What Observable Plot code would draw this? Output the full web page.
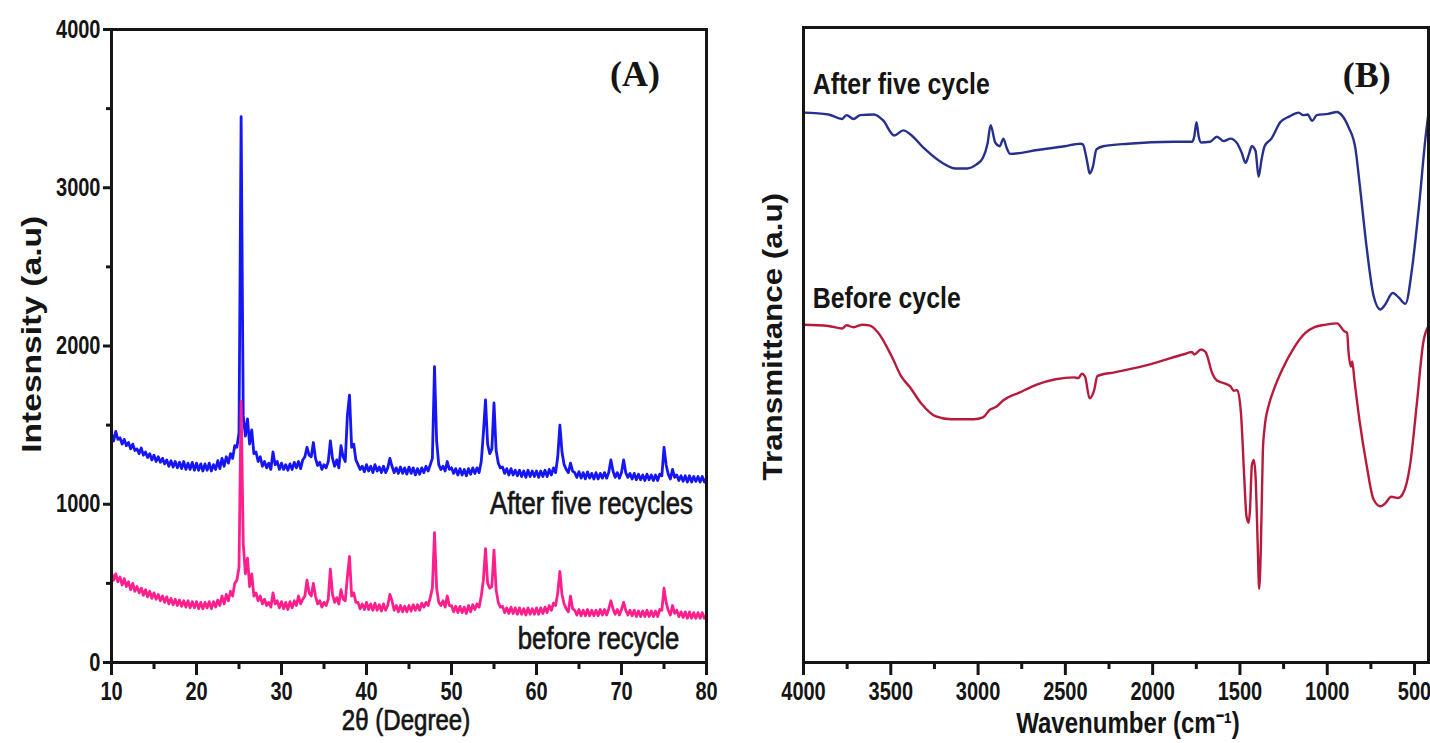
<!DOCTYPE html>
<html><head><meta charset="utf-8">
<script src="https://cdn.jsdelivr.net/npm/d3@7"></script>
<script src="https://cdn.jsdelivr.net/npm/@observablehq/plot@0.6"></script>
<style>
html,body{margin:0;padding:0;background:#fff;overflow:hidden}
#wrap{display:flex;width:1430px;height:743px}
#wrap svg{display:block;flex:none}
</style></head><body><div id="wrap"></div>
<script>
// ---------- Panel A : XRD (2θ grid starts at 10°, step 0.25°) ----------
const xrdStart = 10, xrdStep = 0.25;
const xrdAfter = [
1450,1400,1460,1410, 1420,1380,1410,1370, 1390,1350,1380,1340, 1350,1320,1355,1310,
1330,1295,1320,1280, 1310,1270,1300,1265, 1290,1255,1280,1240, 1275,1235,1270,1230,
1265,1225,1270,1220, 1260,1220,1265,1215, 1260,1215,1255,1210, 1255,1215,1260,1210,
1250,1220,1275,1225, 1290,1240,1300,1260, 1320,1290,1370,1360, 1450,3450,1560,1430,
1540,1380,1470,1320, 1330,1270,1300,1240, 1270,1230,1260,1220, 1330,1250,1270,1220,
1260,1220,1250,1215, 1255,1220,1265,1230, 1270,1225,1280,1300, 1360,1310,1300,1390,
1290,1245,1265,1220, 1250,1230,1270,1400, 1290,1240,1280,1230, 1370,1300,1270,1560,
1690,1360,1380,1280, 1250,1220,1240,1205, 1250,1210,1240,1200, 1250,1210,1235,1200,
1240,1200,1230,1290, 1240,1200,1230,1195, 1235,1195,1230,1190, 1235,1195,1230,1185,
1225,1190,1230,1200, 1240,1210,1250,1290, 1870,1400,1250,1220, 1240,1210,1270,1220,
1230,1195,1225,1185, 1225,1185,1220,1180, 1225,1190,1230,1195, 1230,1200,1270,1450,
1660,1380,1320,1350, 1640,1340,1260,1230, 1235,1195,1225,1185, 1225,1185,1215,1180,
1215,1175,1210,1170, 1215,1175,1210,1175, 1210,1170,1210,1175, 1215,1175,1220,1185,
1230,1200,1300,1500, 1330,1250,1220,1200, 1260,1210,1200,1170, 1205,1165,1200,1160,
1205,1165,1195,1160, 1200,1160,1195,1165, 1200,1165,1200,1280, 1210,1170,1200,1165,
1200,1280,1200,1170, 1195,1160,1195,1155, 1190,1155,1185,1150, 1190,1155,1185,1150,
1185,1150,1190,1180, 1360,1250,1190,1160, 1220,1170,1185,1150, 1180,1145,1180,1140,
1180,1140,1175,1145, 1175,1140,1175,1140, 1165
];
const xrdBefore = [
570,520,560,510, 540,490,530,480, 510,460,500,450, 480,440,470,425,
460,415,450,405, 440,400,430,390, 420,380,415,370, 405,365,400,360,
395,355,390,350, 390,345,385,345, 385,340,380,340, 380,345,385,340,
385,350,395,360, 420,370,430,390, 450,420,500,520, 600,1650,750,560,
660,480,560,420, 440,390,420,370, 400,360,380,350, 440,370,390,345,
385,340,380,335, 385,345,390,360, 420,370,400,420, 520,440,420,500,
420,370,390,350, 380,360,400,590, 430,380,410,370, 460,400,390,540,
670,420,440,380, 380,340,370,335, 380,335,370,330, 375,330,365,325,
370,330,360,430, 390,330,360,320, 360,320,355,320, 360,325,365,330,
365,330,375,350, 380,360,410,470, 820,470,380,360, 390,350,420,360,
360,320,355,315, 355,315,350,310, 360,320,365,335, 370,350,420,520,
720,500,470,480, 710,460,380,350, 355,315,345,310, 350,310,345,305,
345,305,340,300, 345,305,340,305, 345,305,345,310, 350,315,360,330,
375,360,440,575, 430,370,340,320, 420,340,330,300, 335,295,330,295,
335,295,330,295, 330,295,335,300, 335,300,340,390, 340,305,335,300,
335,380,330,300, 330,295,330,290, 325,290,325,290, 330,290,325,290,
325,290,335,330, 470,380,330,300, 360,310,330,290, 320,285,320,280,
320,280,315,280, 315,280,315,280, 300
];
const xrdTicks = [10, 20, 30, 40, 50, 60, 70, 80];
const xrdMinorTicks = [15, 25, 35, 45, 55, 65, 75];
const intensityTicks = [0, 1000, 2000, 3000, 4000];
const intensityMinorTicks = [500, 1500, 2500, 3500];

// ---------- Panel B : FTIR (transmittance, arbitrary units 0–100) ----------
const ftirWnAfter = [4000,3857,3779,3753,3714,3675,3597,3545,3480,3428,3389,3310,3206,3128,3063,3011,2972,2946,2928,2902,2876,2855,2837,2816,2660,2504,2413,2400,2374,2361,2343,2322,2283,2140,1879,1775,1762,1749,1736,1723,1671,1632,1593,1554,1515,1489,1468,1450,1432,1411,1393,1377,1359,1320,1268,1216,1164,1138,1112,1086,1060,995,943,917,878,839,813,774,735,696,670,625,591,552,513,474,435,420];
const ftirAfter   = [86.6,86.3,85.6,86.2,85.6,86.2,86.3,85.4,83.0,83.8,83.2,81.0,78.7,77.8,77.8,78.4,79.5,81.7,84.6,81.9,81.3,82.5,81.1,80.1,80.7,81.3,81.7,81.6,78.7,77.0,78.0,80.8,81.3,81.7,82.0,82.0,82.8,85.1,82.8,81.9,82.0,82.8,82.1,82.5,81.7,80.2,78.7,79.9,81.3,80.6,76.5,79.1,81.3,82.5,85.1,86.0,86.6,86.2,86.3,85.3,86.2,86.4,86.7,86.2,84.3,81.0,75.0,65.3,57.8,55.6,56.3,58.2,57.5,56.5,62.3,72.0,83.2,86.6];
const ftirWnBefore = [4000,3857,3779,3753,3714,3662,3623,3571,3493,3441,3389,3323,3245,3154,3024,2972,2933,2894,2855,2764,2660,2556,2452,2426,2405,2387,2361,2335,2317,2218,2010,1827,1775,1762,1723,1697,1658,1632,1593,1554,1536,1515,1494,1476,1463,1450,1442,1432,1421,1411,1398,1390,1380,1369,1359,1333,1307,1255,1190,1125,1073,1008,943,904,886,878,865,857,844,813,774,735,696,670,633,594,568,526,487,450,420];
const ftirBefore   = [53.2,53.0,52.6,53.1,52.8,53.2,53.1,51.9,48.1,45.1,43.3,40.7,38.8,38.3,38.3,38.6,39.8,40.3,41.3,42.5,43.8,44.6,44.9,44.8,45.5,45.0,41.6,42.9,45.1,45.7,47.0,48.5,48.9,48.5,49.3,48.9,45.5,44.4,44.0,43.5,42.8,42.9,39.2,29.5,23.1,22.0,24.3,31.0,31.9,29.5,18.3,11.6,18.3,33.2,36.9,40.7,42.9,46.3,49.6,51.9,52.8,53.2,53.4,52.2,51.9,48.9,46.6,47.4,44.4,37.7,31.0,25.7,24.6,25.0,26.1,25.9,26.5,31.0,40.7,50.4,53.0];
const wnTicks = [4000, 3500, 3000, 2500, 2000, 1500, 1000, 500];
const wnMinorTicks = [3750, 3250, 2750, 2250, 1750, 1250, 750];

// ---------- styling ----------
const SANS = "'Liberation Sans', Arial, sans-serif";
const SERIF = "'Liberation Serif', 'Times New Roman', serif";
const INK = "#151515";
const plain = d => String(d);

const xrdRows = (vals) => vals.map((v, i) => ({angle: xrdStart + i * xrdStep, v}));
const ftirRows = (wn, vals) => wn.map((w, i) => ({wn: w, t: vals[i]}));

const panelA = Plot.plot({
  width: 720, height: 743,
  marginLeft: 111, marginRight: 14, marginTop: 29, marginBottom: 81,
  x: {domain: [10, 80], axis: null},
  y: {domain: [0, 4000], axis: null},
  style: {fontFamily: SANS, background: "white", color: INK},
  marks: [
    Plot.line(xrdRows(xrdAfter), {x: "angle", y: "v", stroke: "#1616f5", strokeWidth: 2.8}),
    Plot.line(xrdRows(xrdBefore), {x: "angle", y: "v", stroke: "#ff1f8c", strokeWidth: 2.8}),
    Plot.frame({stroke: INK, strokeWidth: 3}),
    Plot.axisX(xrdTicks, {tickSize: 13, tickPadding: 7, strokeWidth: 3, stroke: INK, fontSize: 25, tickFormat: plain, fill: INK, label: null}),
    Plot.axisX(xrdMinorTicks, {tickSize: 7, strokeWidth: 3, stroke: INK, tickFormat: () => "", label: null}),
    Plot.axisY(intensityTicks, {tickSize: 8, tickPadding: 3, strokeWidth: 3, stroke: INK, fontSize: 25, tickFormat: plain, fill: INK, label: null}),
    Plot.axisY(intensityMinorTicks, {tickSize: 5, strokeWidth: 3, stroke: INK, tickFormat: () => "", label: null}),
    Plot.text(["(A)"], {x: 71.6, y: 3713, text: d => d, fontFamily: SERIF, fontWeight: "bold", fontSize: 36, fill: INK}),
    Plot.text(["After five recycles"], {x: 78.4, y: 1004, text: d => d, textAnchor: "end", fontSize: 31, fill: INK, stroke: INK, strokeWidth: 0.7}),
    Plot.text(["before recycle"], {x: 76.8, y: 150, text: d => d, textAnchor: "end", fontSize: 31, fill: INK, stroke: INK, strokeWidth: 0.7}),
    Plot.text(["2θ (Degree)"], {frameAnchor: "bottom", dx: -3, dy: 67, text: d => d, fontSize: 29, fill: INK, stroke: INK, strokeWidth: 0.7}),
    Plot.text(["Intesnsity (a.u)"], {x: 0.62, y: 2074, rotate: -90, text: d => d, fontWeight: "bold", fontSize: 28, fill: INK})
  ]
});

const panelB = Plot.plot({
  width: 710, height: 743,
  marginLeft: 83, marginRight: 2, marginTop: 27, marginBottom: 81,
  x: {domain: [4000, 420], axis: null},
  y: {domain: [0, 100], axis: null},
  style: {fontFamily: SANS, background: "white", color: INK},
  marks: [
    Plot.line(ftirRows(ftirWnAfter, ftirAfter), {x: "wn", y: "t", stroke: "#27308c", strokeWidth: 2.4, curve: "monotone-x"}),
    Plot.line(ftirRows(ftirWnBefore, ftirBefore), {x: "wn", y: "t", stroke: "#b81a3c", strokeWidth: 2.4, curve: "monotone-x"}),
    Plot.frame({stroke: INK, strokeWidth: 3}),
    Plot.axisX(wnTicks, {tickSize: 13, tickPadding: 7, strokeWidth: 3, stroke: INK, fontSize: 25, tickFormat: plain, fill: INK, label: null}),
    Plot.axisX(wnMinorTicks, {tickSize: 7, strokeWidth: 3, stroke: INK, tickFormat: () => "", label: null}),
    Plot.text(["(B)"], {x: 774, y: 92.4, text: d => d, fontFamily: SERIF, fontWeight: "bold", fontSize: 36, fill: INK}),
    Plot.text(["After five cycle"], {x: 3947, y: 91.0, text: d => d, textAnchor: "start", fontWeight: "bold", fontSize: 30, fill: INK}),
    Plot.text(["Before cycle"], {x: 3947, y: 57.3, text: d => d, textAnchor: "start", fontWeight: "bold", fontSize: 30, fill: INK}),
    Plot.text(["Wavenumber (cm⁻¹)"], {frameAnchor: "bottom", dx: 12, dy: 70, text: d => d, fontWeight: "bold", fontSize: 29, fill: INK}),
    Plot.text(["Transmittance (a.u)"], {x: 4172, y: 51.3, rotate: -90, text: d => d, fontWeight: "bold", fontSize: 28, fill: INK})
  ]
});

// The reference figure is stretched vertically: condense horizontal texts, lengthen rotated ones.
for (const svg of [panelA, panelB]) {
  svg.querySelectorAll("text").forEach(t => {
    const s = t.textContent;
    if (!s) return;
    const isTick = !!t.closest('g[aria-label$="tick label"]');
    if (isTick) {
      t.setAttribute("font-weight", "bold");
      t.setAttribute("font-size", "25");
    }
    if (s === "(A)" || s === "(B)") return;
    const tr = t.getAttribute("transform");
    const rotated = tr && tr.includes("rotate");
    const k = rotated
      ? (s.startsWith("Transmittance") ? " scale(1.12,1)" : " scale(1.2,1)")
      : (isTick ? " scale(0.8,1)" : " scale(0.83,1)");
    if (tr) t.setAttribute("transform", tr + k);
    else {
      const x = +(t.getAttribute("x") || 0), y = +(t.getAttribute("y") || 0);
      t.setAttribute("transform", `translate(${x},${y})${k} translate(${-x},${-y})`);
    }
  });
}
document.getElementById("wrap").append(panelA, panelB);
</script></body></html>
